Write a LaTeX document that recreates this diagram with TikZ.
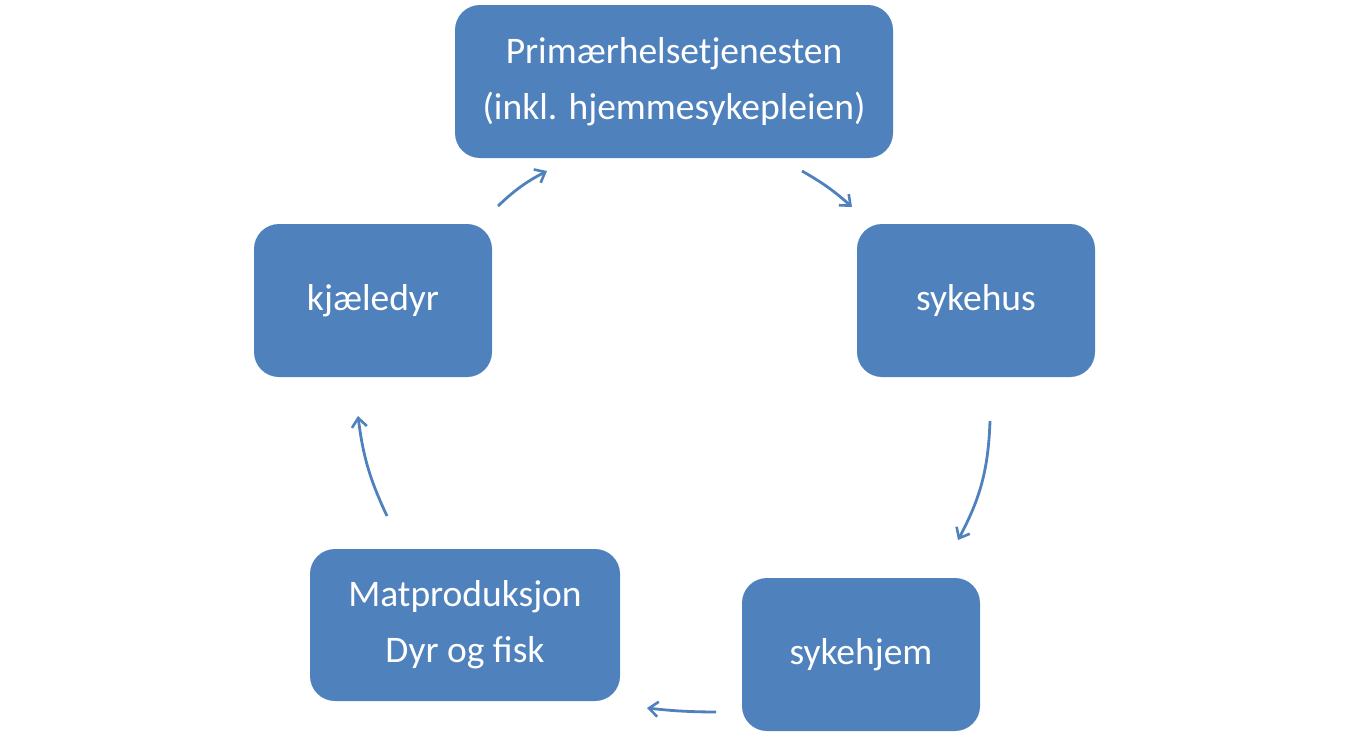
\documentclass[tikz,border=0pt]{standalone}
\usepackage{fontspec}
\setmainfont{Carlito}
\usetikzlibrary{arrows.meta}
\definecolor{boxblue}{HTML}{4F81BD}
\begin{document}
\begin{tikzpicture}[x=1pt,y=-1pt,
  box/.style={fill=boxblue, draw=none, rounded corners=25pt, inner sep=0pt,
    text=white, align=center, font=\fontsize{37.5}{56}\selectfont},
  conn/.style={draw=boxblue, line width=2.8pt, -{Straight Barb[length=9pt,width=15pt,line width=2.6pt]}}]
\useasboundingbox (0,0) rectangle (1350,745);
\node[box, minimum width=438pt, minimum height=153pt] (prim) at (674,81.5) {Primærhelsetjenesten\\(inkl. hjemmesykepleien)};
\node[box, minimum width=238pt, minimum height=153pt] (syk) at (976,300.5) {sykehus};
\node[box, minimum width=238pt, minimum height=153pt] (kjael) at (373,300.5) {kjæledyr};
\node[box, minimum width=238pt, minimum height=153pt] (hjem) at (861,654.5) {sykehjem};
\node[box, minimum width=310pt, minimum height=152pt] (mat) at (465,625) {Matproduksjon\\Dyr og fisk};
\coordinate (a1s) at (498,206); \coordinate (a1e) at (547,171);
\coordinate (a2s) at (802,171); \coordinate (a2e) at (852,207);
\coordinate (a3s) at (990,421); \coordinate (a3e) at (958,540);
\coordinate (a4s) at (716,712); \coordinate (a4e) at (647,708);
\coordinate (a5s) at (387,516); \coordinate (a5e) at (358,416);
\draw[conn] (a1s) to[bend left=8] (a1e);
\draw[conn] (a2s) to[bend left=6] (a2e);
\draw[conn] (a3s) to[bend left=13] (a3e);
\draw[conn] (a4s) to[bend left=3] (a4e);
\draw[conn] (a5s) to[bend left=9] (a5e);
\end{tikzpicture}
\end{document}
